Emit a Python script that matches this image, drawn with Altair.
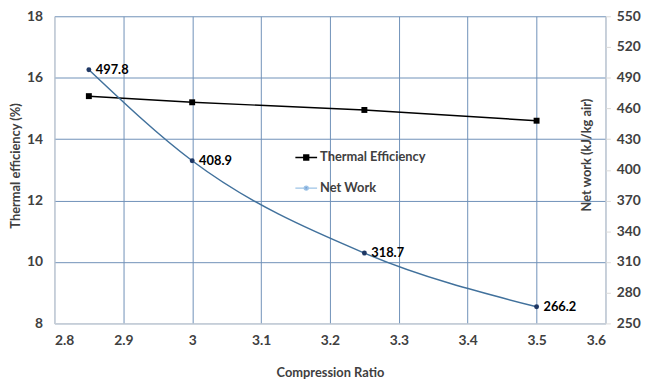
import altair as alt
import pandas as pd

# ---- data ----
compression_ratio = [2.85, 3.0, 3.25, 3.5]
thermal_efficiency = [15.4, 15.2, 14.95, 14.6]
net_work = [497.8, 408.9, 318.7, 266.2]
net_work_labels = ["497.8", "408.9", "318.7", "266.2"]
series_names = ["Thermal Efficiency", "Net Work"]
x_ticks = [2.8, 2.9, 3.0, 3.1, 3.2, 3.3, 3.4, 3.5, 3.6]
left_ticks = [8, 10, 12, 14, 16, 18]
right_ticks = [250, 280, 310, 340, 370, 400, 430, 460, 490, 520, 550]

df = pd.DataFrame({
    "cr": compression_ratio,
    "eff": thermal_efficiency,
    "work": net_work,
    "label": net_work_labels,
})
legend_df = pd.DataFrame({"series": series_names})

FONT = "Lato"
TXT = "#404040"
GRID = "#6f90b8"
AXL = "#d9d9d9"

x_enc = alt.X(
    "cr:Q",
    scale=alt.Scale(domain=[2.8, 3.6], nice=False, zero=False),
    axis=alt.Axis(
        values=x_ticks, format="~g", title="Compression Ratio",
        grid=True, gridColor=GRID, gridWidth=1, ticks=False,
        domainColor=AXL, labelPadding=10, titlePadding=20,
        labelFontSize=14, titleFontSize=13,
    ),
)

y_left = alt.Y(
    "eff:Q",
    scale=alt.Scale(domain=[8, 18], nice=False, zero=False),
    axis=alt.Axis(
        values=left_ticks, title="Thermal efficiency (%)", orient="left",
        grid=True, gridColor=GRID, gridWidth=1, ticks=False,
        domainColor=AXL, labelPadding=12, labelFontSize=14, titleFontSize=13,
        titleX=-39, titleY=151, titleAngle=270,
        titleAlign="center", titleBaseline="middle",
    ),
)

y_right = alt.Y(
    "work:Q",
    scale=alt.Scale(domain=[250, 550], nice=False, zero=False),
    axis=alt.Axis(
        values=right_ticks, title="Net work (kJ/kg air)", orient="right",
        grid=False, ticks=True, tickColor=AXL, tickSize=5,
        domainColor=AXL, labelPadding=6, labelFontSize=14, titleFontSize=13,
        titleX=-19, titleY=140, titleAngle=270,
        titleAlign="center", titleBaseline="middle",
    ),
)

eff_line = alt.Chart(df).mark_line(color="black", strokeWidth=1.5).encode(x=x_enc, y=y_left)
eff_pts = alt.Chart(df).mark_point(shape="square", filled=True, color="black", size=36, opacity=1).encode(x=x_enc, y=y_left)
left = alt.layer(eff_line, eff_pts)

work_line = alt.Chart(df).mark_line(color="#41719c", strokeWidth=1.5, interpolate="monotone").encode(x=x_enc, y=y_right)
work_pts = alt.Chart(df).mark_point(shape="circle", filled=True, color="#1f3864", size=25, opacity=1).encode(x=x_enc, y=y_right)
work_txt = alt.Chart(df).mark_text(
    align="left", baseline="middle", dx=7, font=FONT, fontWeight="bold",
    fontSize=13, color="black",
).encode(x=x_enc, y=y_right, text="label:N")
right = alt.layer(work_line, work_pts, work_txt)

sq_path = "M-1,0H1M-0.22,-0.22H0.22V0.22H-0.22Z"
circ_path = "M-1,0H1M0.18,0A0.18,0.18,0,1,1,-0.18,0A0.18,0.18,0,1,1,0.18,0Z"

leg = alt.Legend(
    orient="none", legendX=243, legendY=131, title=None,
    labelFont=FONT, labelFontWeight="bold", labelFontSize=13,
    labelColor=TXT, symbolSize=484, rowPadding=12, labelOffset=2,
    symbolStrokeWidth=1.5,
)

legend_layer = alt.Chart(legend_df).transform_filter("false").mark_point(filled=True, opacity=1).encode(
    fill=alt.Fill("series:N", scale=alt.Scale(domain=series_names, range=["black", "#4472c4"]), legend=leg),
    stroke=alt.Stroke("series:N", scale=alt.Scale(domain=series_names, range=["black", "#9dc3e6"]), legend=leg),
    shape=alt.Shape("series:N", scale=alt.Scale(domain=series_names, range=[sq_path, circ_path]), legend=leg),
)

chart = alt.layer(left, right, legend_layer).resolve_scale(y="independent").properties(
    width=558, height=311,
    autosize=alt.AutoSizeParams(type="none"),
    padding={"left": 47, "top": 6, "right": 37, "bottom": 62},
    background="white",
).configure_view(stroke="transparent").configure_axis(
    labelFont=FONT, titleFont=FONT, labelFontWeight="bold", titleFontWeight="bold",
    labelColor=TXT, titleColor=TXT,
)

chart.save("out.html", embed_options={"renderer": "svg", "actions": False})
